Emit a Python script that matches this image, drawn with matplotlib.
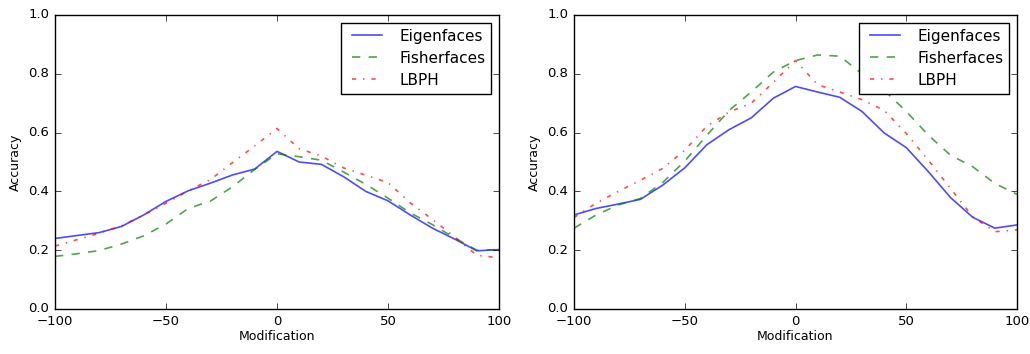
import numpy as np
import matplotlib
matplotlib.use("Agg")
import matplotlib.pyplot as plt

plt.style.use("classic")

modification = np.arange(-100, 101, 10)

# left panel
eigen_left = [0.240, 0.250, 0.260, 0.281, 0.320, 0.366, 0.402, 0.428, 0.456, 0.476, 0.536,
              0.500, 0.492, 0.450, 0.400, 0.368, 0.320, 0.275, 0.238, 0.198, 0.202]
fisher_left = [0.179, 0.188, 0.199, 0.221, 0.249, 0.289, 0.342, 0.367, 0.416, 0.475, 0.528,
               0.518, 0.506, 0.466, 0.424, 0.377, 0.327, 0.287, 0.242, 0.200, 0.202]
lbph_left = [0.214, 0.236, 0.258, 0.283, 0.320, 0.360, 0.402, 0.440, 0.498, 0.555, 0.614,
             0.545, 0.520, 0.480, 0.455, 0.430, 0.361, 0.305, 0.245, 0.183, 0.174]

# right panel
eigen_right = [0.320, 0.342, 0.357, 0.373, 0.421, 0.480, 0.559, 0.610, 0.650, 0.717, 0.757,
               0.738, 0.720, 0.672, 0.599, 0.549, 0.467, 0.379, 0.312, 0.275, 0.286]
fisher_right = [0.275, 0.320, 0.354, 0.376, 0.430, 0.503, 0.591, 0.675, 0.738, 0.806, 0.845,
                0.864, 0.860, 0.800, 0.744, 0.672, 0.591, 0.523, 0.484, 0.427, 0.390]
lbph_right = [0.311, 0.360, 0.400, 0.438, 0.478, 0.540, 0.622, 0.670, 0.700, 0.771, 0.845,
              0.763, 0.738, 0.712, 0.676, 0.597, 0.506, 0.410, 0.314, 0.263, 0.269]

labels = ["Eigenfaces", "Fisherfaces", "LBPH"]
styles = ["b-", "g--", "r-."]

W, H = 1030, 354
fig = plt.figure(figsize=(W / 100, H / 100), dpi=100, facecolor="white")
ax1 = fig.add_axes([55 / W, (H - 309) / H, 444 / W, 294 / H])
ax2 = fig.add_axes([574 / W, (H - 309) / H, 443 / W, 294 / H])

panels = [(ax1, [eigen_left, fisher_left, lbph_left]),
          (ax2, [eigen_right, fisher_right, lbph_right])]

for ax, series in panels:
    for vals, st, lab in zip(series, styles, labels):
        ax.plot(modification, vals, st, label=lab, alpha=0.7, linewidth=1.2)
    ax.set_xlim(-100, 100)
    ax.set_ylim(0, 1.0)
    ax.set_xticks([-100, -50, 0, 50, 100])
    ax.set_yticks(np.arange(0, 1.01, 0.2))
    ax.tick_params(labelsize=9.5, direction="in", length=4)
    ax.set_xlabel("Modification", fontsize=9, labelpad=2)
    ax.set_ylabel("Accuracy", fontsize=9, labelpad=5)
    ax.legend(loc="upper right", fontsize=11, handlelength=2.6,
              borderpad=0.4, labelspacing=0.45)

fig.savefig("out.png", dpi=100, facecolor="white")
